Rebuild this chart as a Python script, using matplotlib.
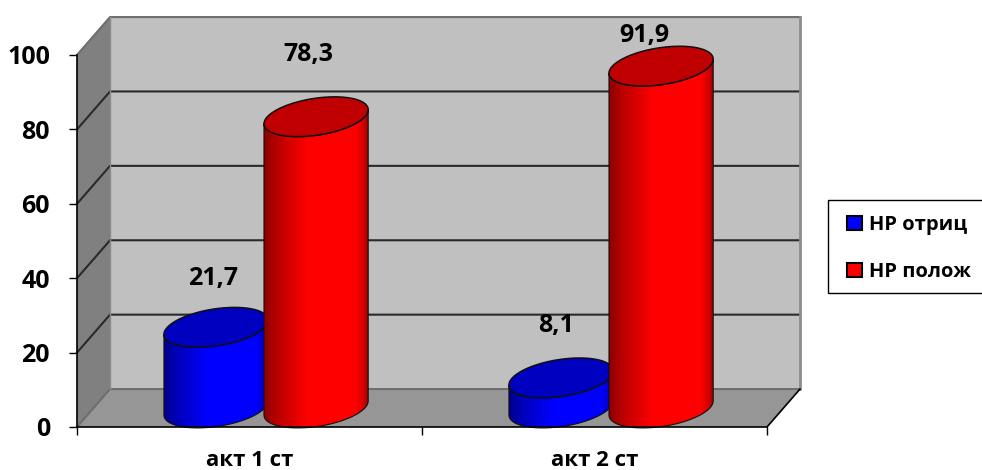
import numpy as np
import matplotlib
matplotlib.use('Agg')
import matplotlib.pyplot as plt
from matplotlib.colors import LinearSegmentedColormap
from matplotlib.patches import Patch, Polygon, Rectangle

plt.rcParams['font.family'] = ['Open Sans', 'DejaVu Sans']
plt.rcParams['font.weight'] = 'bold'

# Daten
kategorien = ['акт 1 ст', 'акт 2 ст']
hp_otric = [21.7, 8.1]
hp_polozh = [78.3, 91.9]
serien_namen = ['НР отриц', 'НР полож']
y_ticks = [0, 20, 40, 60, 80, 100]

# 3D-Versatz der Rueckwand in Achseneinheiten
DX = 0.0957
DY = 10.2

# Zylinder
HALB_B = 0.151
HALB_H = 5.0
KIPP = 1.9
ABSTAND = 0.145
MITTE = 0.548

fig = plt.figure(figsize=(9.82, 4.7), dpi=100)
ax = fig.add_axes([77 / 982, 43 / 470, 690 / 982, 372 / 470])
ax.patch.set_visible(False)
ax.set_xlim(0, 2)
ax.set_ylim(0, 100)

# Waende und Boden
ax.add_patch(Polygon([(DX, DY), (2 + DX, DY), (2 + DX, 100 + DY), (DX, 100 + DY)],
                     fc='#C0C0C0', ec='none', clip_on=False, zorder=1))
ax.add_patch(Polygon([(0, 0), (DX, DY), (DX, 100 + DY), (0, 100)],
                     fc='#808080', ec='none', clip_on=False, zorder=1))
ax.add_patch(Polygon([(0, 0), (2, 0), (2 + DX, DY), (DX, DY)],
                     fc='#969696', ec='none', clip_on=False, zorder=1))

# Gitterlinien
for t in y_ticks:
    farbe = '#2a2a2a' if 0 < t < 100 else '#6e6e6e'
    ax.plot([0, DX, 2 + DX], [t, t + DY, t + DY], color=farbe, lw=1.5,
            clip_on=False, zorder=2, solid_joinstyle='miter')
ax.plot([DX, DX], [DY, 100 + DY], color='#8c8c8c', lw=1, clip_on=False, zorder=2)
ax.plot([2 + DX, 2 + DX], [DY, 100 + DY], color='#8c8c8c', lw=2, clip_on=False, zorder=2)
ax.plot([2, 2 + DX], [0, DY], color='black', lw=1.2, clip_on=False, zorder=2)

rot = LinearSegmentedColormap.from_list('rot', [(0, '#8c0000'), (0.12, '#b80000'), (0.42, '#ff0000'),
                                                (0.88, '#ff0000'), (0.97, '#c00000'), (1, '#800000')])
blau = LinearSegmentedColormap.from_list('blau', [(0, '#00008c'), (0.12, '#0000b8'), (0.42, '#0000ff'),
                                                  (0.88, '#0000ff'), (0.97, '#0000c0'), (1, '#000080')])


def ellipse_x_y(cx, cy, t):
    return cx + HALB_B * np.cos(t), cy + HALB_H * np.sin(t) + KIPP * np.cos(t)


def zylinder(cx, wert, cmap, deckel, z):
    boden = HALB_H + 0.1
    oben = boden + wert
    t = np.linspace(np.pi, 2 * np.pi, 80)
    xu, yu = ellipse_x_y(cx, boden, t)
    xo, yo = ellipse_x_y(cx, oben, t[::-1])
    mantel = np.column_stack([np.r_[xu, xo], np.r_[yu, yo]])
    # Mantel mit Farbverlauf, auf die Zylinderform beschnitten
    verlauf = np.linspace(0, 1, 256).reshape(1, -1)
    im = ax.imshow(verlauf, cmap=cmap, aspect='auto', zorder=z,
                   extent=[cx - HALB_B, cx + HALB_B, boden - 8, oben + 8])
    clip = Polygon(mantel, transform=ax.transData)
    im.set_clip_path(clip)
    ax.add_patch(Polygon(mantel, fc='none', ec='#101010', lw=0.8, clip_on=False, zorder=z + 0.1))
    t2 = np.linspace(0, 2 * np.pi, 160)
    xd, yd = ellipse_x_y(cx, oben, t2)
    ax.add_patch(Polygon(np.column_stack([xd, yd]), fc=deckel, ec='#101010', lw=1.1,
                         clip_on=False, zorder=z + 0.2))


for i in range(len(kategorien)):
    zylinder(i + MITTE - ABSTAND, hp_otric[i], blau, '#0000c0', 3)
    zylinder(i + MITTE + ABSTAND, hp_polozh[i], rot, '#c00000', 4)

ax.set_xlim(0, 2)
ax.set_ylim(0, 100)

# Werte ueber den Saeulen (Versatz in Pixeln)
versatz_blau = [(-3, 49), (-5, 52)]
versatz_rot = [(-8, 62), (-17, 31)]
for i in range(len(kategorien)):
    for cx, wert, off in [(i + MITTE - ABSTAND, hp_otric[i], versatz_blau[i]),
                          (i + MITTE + ABSTAND, hp_polozh[i], versatz_rot[i])]:
        ax.annotate(f'{wert:.1f}'.replace('.', ','), (cx, wert + HALB_H + 0.1), xytext=off,
                    textcoords='offset pixels', ha='center', va='center', fontsize=18,
                    fontweight='bold', annotation_clip=False, zorder=6)

# Achsen
for s in ['top', 'right']:
    ax.spines[s].set_visible(False)
ax.spines['left'].set_linewidth(1.2)
ax.spines['bottom'].set_linewidth(1.2)
ax.spines['left'].set_zorder(5)
ax.spines['bottom'].set_zorder(5)
ax.set_yticks(y_ticks)
ax.tick_params(axis='y', length=5.5, width=1, labelsize=18, pad=14)
for lab in ax.get_yticklabels():
    lab.set_fontweight('bold')
ax.set_xticks([0, 1, 2])
ax.set_xticklabels([])
ax.tick_params(axis='x', which='major', length=6, width=1)
ax.set_xticks([0.5, 1.5], minor=True)
ax.set_xticklabels(kategorien, minor=True, fontsize=16, fontweight='bold')
ax.tick_params(axis='x', which='minor', length=0, pad=16.5)

# Rahmen der Legende laeuft rechts ueber den Bildrand hinaus
fig.add_artist(Rectangle((828 / 982, 1 - 293 / 470), 170 / 982, 93 / 470, transform=fig.transFigure,
                         fc='white', ec='black', lw=1))
griffe = [Patch(fc='#0000ff', ec='black', lw=1.5), Patch(fc='#ff0000', ec='black', lw=1.5)]
leg = fig.legend(griffe, serien_namen, loc='upper left', bbox_to_anchor=(847 / 982, 1 - 215 / 470),
                 frameon=False, handlelength=0.75, handleheight=0.65, handletextpad=0.35,
                 labelspacing=1.35, borderpad=0, borderaxespad=0,
                 prop={'weight': 'bold', 'size': 14.5})

plt.savefig('out.png', dpi=100)
